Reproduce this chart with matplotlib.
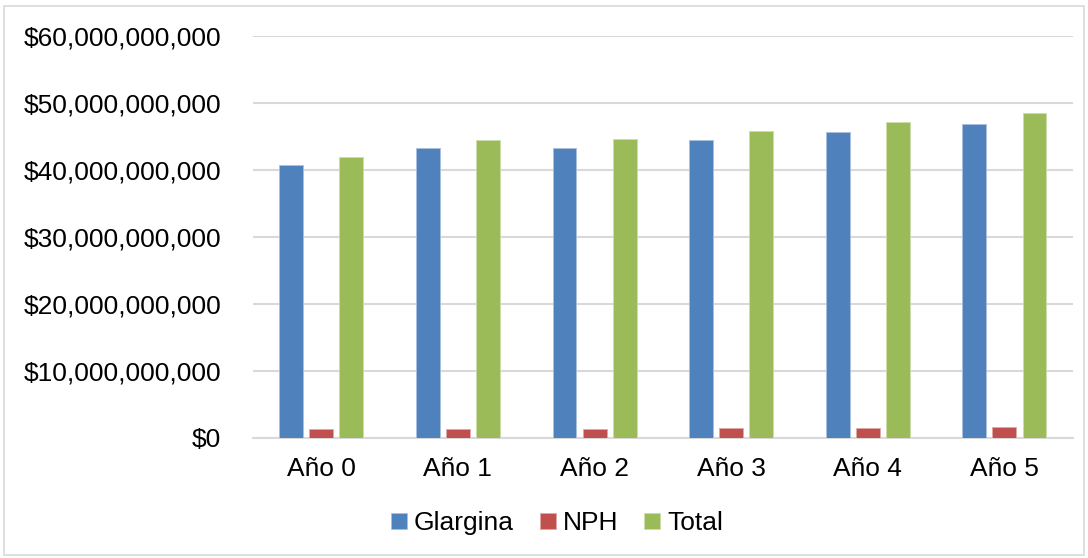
import numpy as np
import matplotlib.pyplot as plt
from matplotlib.patches import Rectangle
from matplotlib.ticker import FuncFormatter

years = ["Año 0", "Año 1", "Año 2", "Año 3", "Año 4", "Año 5"]
glargina = [40.75e9, 43.2e9, 43.2e9, 44.4e9, 45.7e9, 46.9e9]
nph = [1.25e9, 1.3e9, 1.35e9, 1.45e9, 1.5e9, 1.55e9]
total = [42.0e9, 44.5e9, 44.55e9, 45.85e9, 47.2e9, 48.45e9]

plt.rcParams['font.family'] = ['Liberation Sans', 'DejaVu Sans']

fig = plt.figure(figsize=(10.88, 5.58), dpi=100)
ax = fig.add_axes([0.2325, 0.2155, 0.7535, 0.72])

x = np.arange(len(years))
w = 0.175
off = 0.22
ax.bar(x - off, glargina, w, color="#4F81BD", edgecolor="#a9c0de", linewidth=0.6, label="Glargina", zorder=3)
ax.bar(x, nph, w, color="#C0504D", edgecolor="#e0a8a6", linewidth=0.6, label="NPH", zorder=3)
ax.bar(x + off, total, w, color="#9BBB59", edgecolor="#cddcab", linewidth=0.6, label="Total", zorder=3)

ax.set_xlim(-0.5, len(years) - 0.5)
ax.set_ylim(0, 60e9)
ax.set_yticks(np.arange(0, 60e9 + 1, 10e9))
ax.yaxis.set_major_formatter(FuncFormatter(lambda v, p: "${:,.0f}".format(v)))
ax.set_xticks(x)
ax.set_xticklabels(years)
ax.tick_params(axis="y", length=0, pad=23, labelsize=19)
ax.tick_params(axis="x", length=0, pad=14, labelsize=19)
ax.grid(axis="y", color="#d9d9d9", linewidth=1.5, zorder=0)
for s in ["top", "right", "left"]:
    ax.spines[s].set_visible(False)
ax.spines["bottom"].set_color("#d9d9d9")
ax.spines["bottom"].set_linewidth(1.5)

ax.legend(loc="center", bbox_to_anchor=(0.512, 0.062), bbox_transform=fig.transFigure,
          ncol=3, frameon=False, fontsize=19, handlelength=0.6, handleheight=0.6,
          handletextpad=0.25, columnspacing=1.0)

# thin frame around the chart area
fig.patches.append(Rectangle((0.004, 0.006), 0.992, 0.983, transform=fig.transFigure,
                             fill=False, edgecolor="#d9d9d9", linewidth=1.2))

plt.savefig("out.png", dpi=100)
